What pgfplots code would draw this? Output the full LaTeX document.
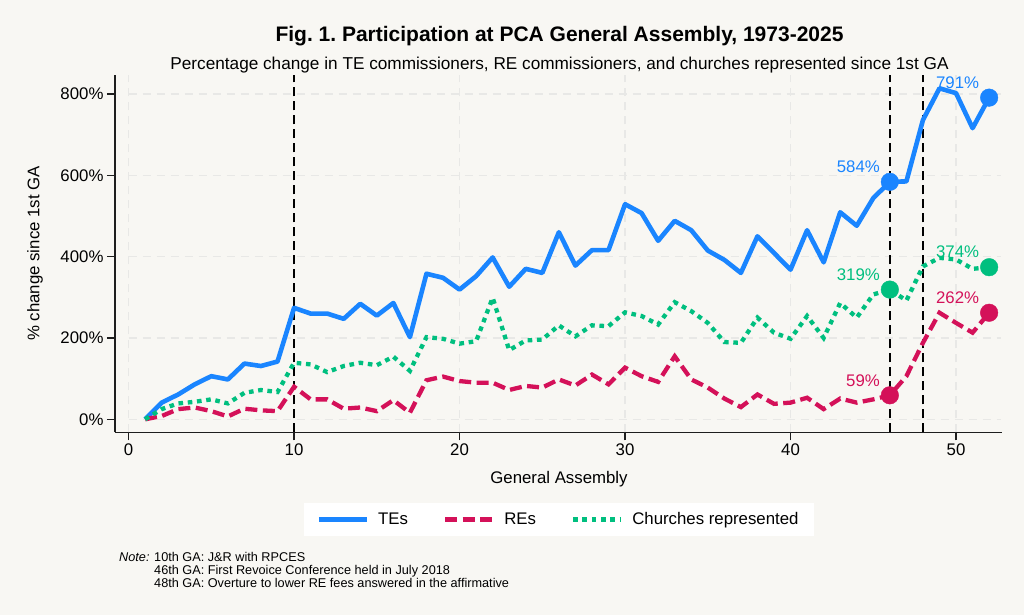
\documentclass[border=0pt]{standalone}
\usepackage{fontspec}
\setmainfont{Liberation Sans}
\usepackage{pgfplots}
\pgfplotsset{compat=1.18}
\frenchspacing
\definecolor{bg}{RGB}{248,247,243}
\definecolor{stcA}{RGB}{26,133,255}
\definecolor{stcB}{RGB}{212,17,89}
\definecolor{stcC}{RGB}{0,191,127}
\definecolor{gridc}{RGB}{232,232,230}
\definecolor{axc}{RGB}{30,30,30}

\pgfplotstableread{
x te re ch
1 0 0 0
2 41 8 25
3 61 25 39
4 86 29 43
5 106 20 49
6 98 7 39
7 137 26 65
8 131 22 72
9 142 20 67
10 274 80 139
11 260 49 135
12 260 49 116
13 247 26 131
14 284 29 139
15 255 20 133
16 286 47 154
17 202 16 119
18 358 96 202
19 348 105 198
20 319 94 186
21 352 90 192
22 398 90 299
23 326 72 170
24 370 82 194
25 360 78 196
26 460 98 231
27 378 83 204
28 416 110 231
29 416 86 229
30 529 127 263
31 507 106 254
32 439 92 233
33 488 155 288
34 465 98 266
35 415 78 237
36 392 51 190
37 360 30 188
38 450 61 250
39 409 38 213
40 368 41 198
41 465 53 254
42 386 25 200
43 509 51 286
44 476 41 250
45 544 49 307
46 584 59 319
47 585 106 292
48 736 188 376
49 814 262 397
50 802 237 393
51 716 213 370
52 791 262 374
}\datatable

\newcommand{\fs}{\fontsize{16.8}{19}\selectfont}

\begin{document}
\begin{tikzpicture}[x=1pt,y=1pt]
\fill[bg] (0,0) rectangle (1024,615);
\node[anchor=base, inner sep=0pt, font=\bfseries\fontsize{21}{24}\selectfont] at (559.5,573.3) {Fig. 1. Participation at PCA General Assembly, 1973-2025};
\node[anchor=base, inner sep=0pt, font=\fontsize{17.2}{20}\selectfont] at (559.5,545) {Percentage change in TE commissioners, RE commissioners, and churches represented since 1st GA};
\node[rotate=90, font=\fs] at (35,361.5) {\% change since 1st GA};
\node[font=\fs] at (559,136) {General Assembly};
\node[anchor=base west, inner sep=0pt, font=\itshape\fontsize{12.7}{14}\selectfont] at (119,53.5) {Note:};
\node[anchor=base west, font=\fontsize{12.7}{14}\selectfont, inner sep=0pt] at (154,53.5) {10th GA: J\&R with RPCES};
\node[anchor=base west, font=\fontsize{12.7}{14}\selectfont, inner sep=0pt] at (154,40.5) {46th GA: First Revoice Conference held in July 2018};
\node[anchor=base west, font=\fontsize{12.7}{14}\selectfont, inner sep=0pt] at (154,27.5) {48th GA: Overture to lower RE fees answered in the affirmative};
\begin{axis}[
  at={(115pt,182.7pt)}, anchor=south west, scale only axis,
  width=886.7pt, height=357.3pt,
  xmin=-0.82, xmax=52.76, ymin=-32, ymax=846.7,
  axis x line*=bottom, axis y line*=left,
  axis line style={line width=1.3pt, axc},
  every tick/.style={line width=1.3pt, axc},
  tick align=outside, major tick length=8pt,
  xtick={0,10,20,30,40,50}, xticklabels={0,10,20,30,40,50},
  ytick={0,200,400,600,800}, yticklabels={0\%,200\%,400\%,600\%,800\%},
  ticklabel style={font=\fs},
  clip=false,
  legend columns=3,
  legend cell align=left,
  legend image code/.code={\draw[#1] (0pt,0pt) -- (48pt,0pt);},
  legend style={at={(0.5002,-0.244)}, anchor=center, fill=white, draw=none,
    font=\fs, inner xsep=13pt, inner ysep=8pt,
    /tikz/every odd column/.append style={column sep=7pt},
    /tikz/every even column/.append style={column sep=33pt}},
]
\pgfplotsinvokeforeach{0,200,400,600,800}{
  \draw[gridc, line width=1.3pt, dash pattern=on 8pt off 6pt] (axis cs:0,#1) -- (axis cs:52.7,#1);
}
\pgfplotsinvokeforeach{0,10,20,30,40,50}{
  \draw[gridc, line width=1.3pt, dash pattern=on 8pt off 6pt] (axis cs:#1,-32) -- (axis cs:#1,846.7);
}
\addplot[forget plot, black, line width=1.8pt, dash pattern=on 9pt off 5pt] coordinates {(10,-32) (10,846.7)};
\addplot[forget plot, black, line width=1.8pt, dash pattern=on 9pt off 5pt] coordinates {(46,-32) (46,846.7)};
\addplot[forget plot, black, line width=1.8pt, dash pattern=on 9pt off 5pt] coordinates {(48,-32) (48,846.7)};

\addplot[stcA, line width=4.6pt, line join=round] table[x=x, y=te] {\datatable};
\addlegendentry{TEs}
\addplot[stcB, line width=4.3pt, dash pattern=on 12pt off 5.5pt] table[x=x, y=re] {\datatable};
\addlegendentry{REs}
\addplot[stcC, line width=4.3pt, dash pattern=on 4.6pt off 4.7pt] table[x=x, y=ch] {\datatable};
\addlegendentry{Churches represented}

\addplot[forget plot, only marks, mark=*, mark size=8.8pt, stcA] coordinates {(46,584) (52,791)};
\addplot[forget plot, only marks, mark=*, mark size=8.8pt, stcB] coordinates {(46,59) (52,262)};
\addplot[forget plot, only marks, mark=*, mark size=8.8pt, stcC] coordinates {(46,319) (52,374)};

\node[anchor=east, text=stcA, font=\fs] at ([xshift=-6.5pt,yshift=15pt]axis cs:46,584) {584\%};
\node[anchor=east, text=stcA, font=\fs] at ([xshift=-6.5pt,yshift=15pt]axis cs:52,791) {791\%};
\node[anchor=east, text=stcB, font=\fs] at ([xshift=-6.5pt,yshift=15pt]axis cs:46,59) {59\%};
\node[anchor=east, text=stcB, font=\fs] at ([xshift=-6.5pt,yshift=15pt]axis cs:52,262) {262\%};
\node[anchor=east, text=stcC, font=\fs] at ([xshift=-6.5pt,yshift=15pt]axis cs:46,319) {319\%};
\node[anchor=east, text=stcC, font=\fs] at ([xshift=-6.5pt,yshift=15pt]axis cs:52,374) {374\%};
\end{axis}
\end{tikzpicture}
\end{document}
